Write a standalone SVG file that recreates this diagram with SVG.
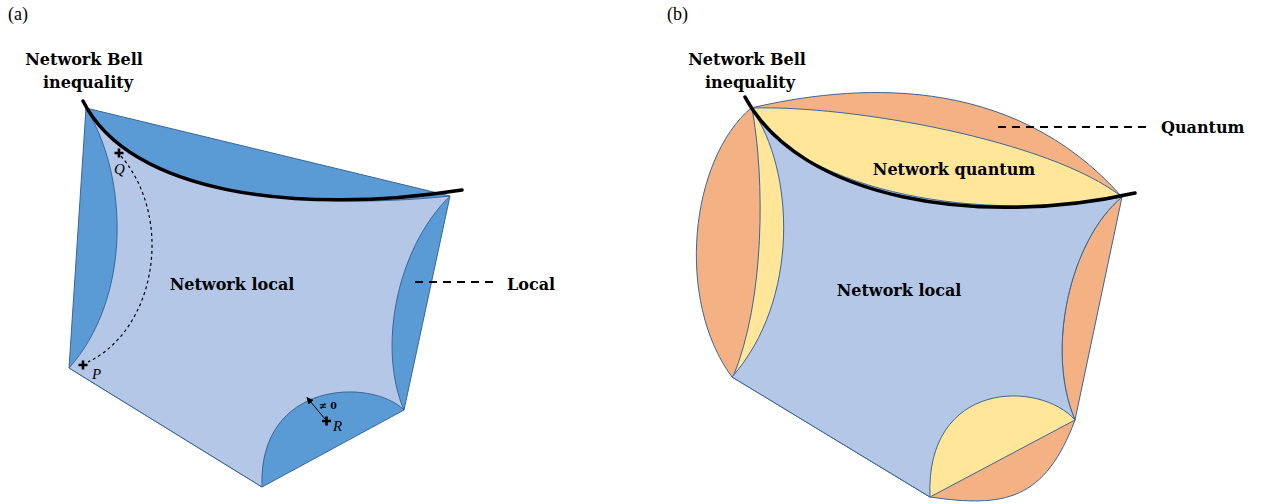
<svg xmlns="http://www.w3.org/2000/svg" width="1270" height="504" viewBox="0 0 1270 504">
  <defs>
    <style>
      .dark{fill:#5B9BD5;stroke:#3A6699;stroke-width:1;stroke-linejoin:round}
      .light{fill:#B4C7E7;stroke:#3A6699;stroke-width:1;stroke-linejoin:round}
      .yel{fill:#FFE699;stroke:#3A6699;stroke-width:1;stroke-linejoin:round}
      .ora{fill:#F4B183;stroke:#3A6699;stroke-width:1;stroke-linejoin:round}
      .bell{fill:none;stroke:#000;stroke-width:3.5;stroke-linecap:round}
      .lead{fill:none;stroke:#000;stroke-width:2;stroke-dasharray:8,6}
      .path{fill:none;stroke:#000;stroke-width:1.2;stroke-dasharray:3,3}
      .plus{fill:none;stroke:#000;stroke-width:2.6}
      .lbl{font-family:"DejaVu Serif",serif;font-weight:bold;font-size:16px;fill:#000}
      .tag{font-family:"Liberation Serif",serif;font-size:18px;fill:#000}
      .pt{font-family:"Liberation Serif",serif;font-style:italic;font-size:15px;fill:#000}
    </style>
    <marker id="ah" viewBox="0 0 10 10" refX="9" refY="5" markerWidth="7" markerHeight="7" orient="auto-start-reverse">
      <path d="M0,0 L10,5 L0,10 Z" fill="#000"/>
    </marker>
  </defs>

  <!-- Panel (a) -->
  <g id="panel-a">
    <g id="a-local-polytope">
      <path class="dark" d="M86,108 L450,196 L404,410 L262,487 L69,368 Z"/>
    </g>
    <g id="a-network-local">
      <path class="light" d="M86,108 C132,192 300,212 450,196 C395,250 378,350 404,410 C372,378 258,380 262,487 L69,368 C130,300 130,180 86,108 Z"/>
    </g>
    <g id="a-bell">
      <path class="bell" d="M83,101 C130,195 300,215 462,190"/>
    </g>
    <g id="a-points">
      <path class="path" d="M121,156 C175,220 155,330 88,362"/>
      <path class="plus" d="M114.5,153 H123.5 M119,148.5 V157.5"/>
      <text class="pt" x="114" y="174">Q</text>
      <path class="plus" d="M78.5,365 H87.5 M83,360.5 V369.5"/>
      <text class="pt" x="92" y="379">P</text>
      <path class="plus" d="M322,421 H331 M326.5,416.5 V425.5"/>
      <text class="pt" x="333" y="431">R</text>
      <line x1="325" y1="419" x2="307" y2="397.5" stroke="#000" stroke-width="1" marker-end="url(#ah)"/>
      <text x="319" y="409" font-family="DejaVu Serif,serif" font-weight="bold" font-size="9.5">≠ 0</text>
    </g>
  </g>

  <!-- Panel (b) -->
  <g id="panel-b">
    <g id="b-quantum">
      <path class="ora" d="M751,108 C850,85 1010,70 1122,197 L1075,420 C1045,500 1005,508 930,497 L732,377 C675,300 690,160 751,108 Z"/>
    </g>
    <g id="b-network-quantum">
      <path class="yel" d="M752,108 C850,105 1050,140 1122,197 C1070,240 1045,350 1075,420 L930,497 L733,377 C765,300 765,180 752,108 Z"/>
    </g>
    <g id="b-network-local">
      <path class="light" d="M751,108 C805,195 985,222 1122,197 C1070,240 1045,350 1075,420 C1040,380 925,380 930,497 L732,377 C800,300 795,170 751,108 Z"/>
    </g>
    <g id="b-bell">
      <path class="bell" d="M745,97 C800,200 980,228 1135,193"/>
    </g>
  </g>

  <!-- Leader lines -->
  <g id="connectors">
    <line class="lead" x1="415" y1="282" x2="497" y2="282"/>
    <line class="lead" x1="998" y1="127" x2="1152" y2="127"/>
  </g>

  <!-- Labels -->
  <g id="labels">
    <text class="tag" x="8" y="20">(a)</text>
    <text class="tag" x="667" y="20">(b)</text>
    <text class="lbl" x="84" y="65" text-anchor="middle">Network Bell</text>
    <text class="lbl" x="88" y="88" text-anchor="middle">inequality</text>
    <text class="lbl" x="747" y="65" text-anchor="middle">Network Bell</text>
    <text class="lbl" x="750" y="88" text-anchor="middle">inequality</text>
    <text class="lbl" x="232" y="290" text-anchor="middle">Network local</text>
    <text class="lbl" x="507" y="290">Local</text>
    <text class="lbl" x="954" y="175" text-anchor="middle">Network quantum</text>
    <text class="lbl" x="899" y="296" text-anchor="middle">Network local</text>
    <text class="lbl" x="1161" y="133">Quantum</text>
  </g>
</svg>
